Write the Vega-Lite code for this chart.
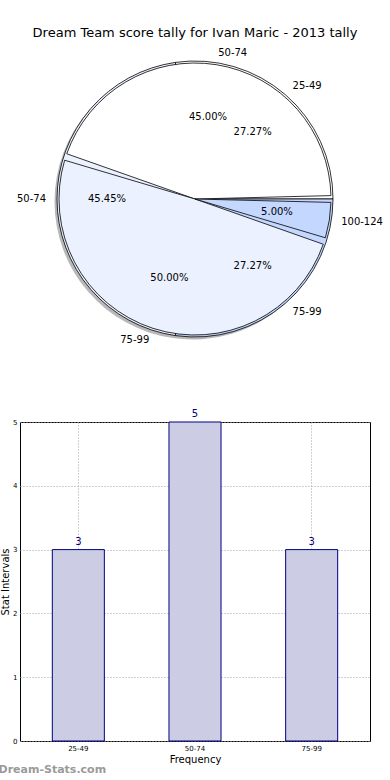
{
  "$schema": "https://vega.github.io/schema/vega-lite/v6.json",
  "autosize": "pad",
  "padding": {"left": -2, "top": 27, "right": 0, "bottom": 0},
  "background": "white",
  "config": {
    "font": "DejaVu Sans",
    "view": {"stroke": "black", "strokeWidth": 1},
    "concat": {"spacing": 70}
  },
  "datasets": {
    "pies": [
      {"pie": "A", "range": "25-49", "n": 3, "k": 1, "pct": "27.27%"},
      {"pie": "A", "range": "50-74", "n": 5, "k": 2, "pct": "45.45%"},
      {"pie": "A", "range": "75-99", "n": 3, "k": 3, "pct": "27.27%"},
      {"pie": "B", "range": "50-74", "n": 45, "k": 1, "pct": "45.00%"},
      {"pie": "B", "range": "75-99", "n": 50, "k": 2, "pct": "50.00%"},
      {"pie": "B", "range": "100-124", "n": 5, "k": 3, "pct": "5.00%"}
    ],
    "bars": [
      {"range": "25-49", "count": 3},
      {"range": "50-74", "count": 5},
      {"range": "75-99", "count": 3}
    ]
  },
  "bounds": "flush",
  "center": true,
  "vconcat": [
    {
      "width": 390,
      "height": 306,
      "view": {"stroke": null},
      "title": {"text": "Dream Team score tally for Ivan Maric - 2013 tally", "fontSize": 13, "fontWeight": "normal", "anchor": "middle", "baseline": "alphabetic", "offset": -4, "color": "black"},
      "data": {"name": "pies"},
      "encoding": {
        "theta": {"field": "n", "type": "quantitative", "stack": "normalize", "scale": {"domain": [0, 1], "range": [1.5708, -4.7124]}},
        "order": {"field": "k", "type": "quantitative"},
        "color": {"field": "k", "type": "nominal", "scale": {"domain": [1, 2, 3], "range": ["#FFFFFF", "#EBF1FE", "#C3D7FF"]}, "legend": null}
      },
      "layer": [
        {
          "transform": [{"filter": "datum.pie == 'A'"}],
          "layer": [
            {"mark": {"type": "arc", "radius": 138, "xOffset": -2.5, "yOffset": 2.5, "fill": "#888888", "opacity": 0.6}, "encoding": {"color": {"value": "#888888"}}},
            {"mark": {"type": "arc", "radius": 138, "stroke": "black", "strokeWidth": 0.8}}
          ]
        },
        {
          "transform": [{"filter": "datum.pie == 'B'"}],
          "layer": [
            {"mark": {"type": "arc", "radius": 136, "padAngle": 0.05, "stroke": "black", "strokeWidth": 0.8}}
          ]
        },
        {
          "transform": [{"filter": "datum.pie == 'A'"}],
          "layer": [
            {"mark": {"type": "text", "radius": 88, "fontSize": 10, "align": "center", "baseline": "middle"}, "encoding": {"text": {"field": "pct"}, "color": {"value": "black"}}},
            {"mark": {"type": "text", "radius": 149, "fontSize": 10, "align": "left", "baseline": "middle"}, "encoding": {"text": {"condition": {"test": "datum.k != 2", "field": "range"}, "value": ""}, "color": {"value": "black"}}},
            {"mark": {"type": "text", "radius": 149, "fontSize": 10, "align": "right", "baseline": "middle"}, "encoding": {"text": {"condition": {"test": "datum.k == 2", "field": "range"}, "value": ""}, "color": {"value": "black"}}}
          ]
        },
        {
          "transform": [{"filter": "datum.pie == 'B'"}],
          "layer": [
            {"mark": {"type": "text", "radius": 83, "fontSize": 10, "align": "center", "baseline": "middle"}, "encoding": {"text": {"field": "pct"}, "color": {"value": "black"}}},
            {"mark": {"type": "text", "radius": 148, "fontSize": 10, "align": "left", "baseline": "middle"}, "encoding": {"text": {"condition": {"test": "datum.k != 2", "field": "range"}, "value": ""}, "color": {"value": "black"}}},
            {"mark": {"type": "text", "radius": 148, "fontSize": 10, "align": "right", "baseline": "middle"}, "encoding": {"text": {"condition": {"test": "datum.k == 2", "field": "range"}, "value": ""}, "color": {"value": "black"}}}
          ]
        }
      ]
    },
    {
      "width": 350,
      "height": 319,
      "data": {"name": "bars"},
      "title": {"text": "Dream-Stats.com", "orient": "bottom", "anchor": "start", "dx": -2, "offset": 0, "fontSize": 11, "fontWeight": "bold", "color": "#9a9a9a"},
      "encoding": {
        "x": {"field": "range", "type": "nominal", "sort": null,
          "scale": {"paddingInner": 0.554, "paddingOuter": 0.277},
          "axis": {"labelAngle": 0, "title": "Frequency", "labelFontSize": 7, "titleFontSize": 10, "titleFontWeight": "normal", "titlePadding": 3, "labelPadding": 3, "domain": false, "ticks": false, "grid": true, "gridDash": [1, 2], "gridColor": "#a0a0a0", "labelColor": "black", "titleColor": "black"}},
        "y": {"field": "count", "type": "quantitative",
          "scale": {"domain": [0, 5]},
          "axis": {"values": [0, 1, 2, 3, 4, 5], "title": "Stat Intervals", "labelFontSize": 7, "titleFontSize": 10, "titleFontWeight": "normal", "titlePadding": 2, "labelPadding": 3, "domain": false, "ticks": false, "grid": true, "gridDash": [1, 2], "gridColor": "#a0a0a0", "labelColor": "black", "titleColor": "black"}}
      },
      "layer": [
        {"mark": {"type": "bar", "fill": "#CCCCE5", "stroke": "#000080", "strokeWidth": 1}},
        {"mark": {"type": "text", "dy": -8, "fontSize": 10, "color": "#000080"}, "encoding": {"text": {"field": "count"}}}
      ]
    }
  ]
}
